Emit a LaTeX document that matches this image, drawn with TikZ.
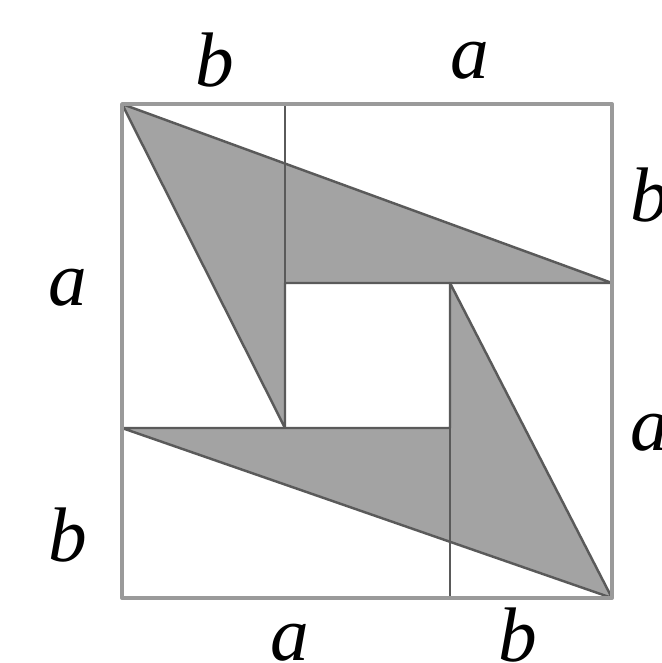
\documentclass[tikz,border=0pt]{standalone}
\usepackage{fontspec}
\setmainfont{Liberation Serif}
\definecolor{shade}{HTML}{A3A3A3}
\definecolor{edge}{HTML}{5A5A5A}
\definecolor{frame}{HTML}{9A9A9A}
\tikzset{lbl/.style={font=\fontsize{22}{26}\selectfont\itshape}}
\begin{document}
\begin{tikzpicture}[line join=round]
            \useasboundingbox (0,0) rectangle (6.62,6.63);
            \coordinate (tl) at (1.22,5.59);
            \coordinate (tr) at (6.12,5.59);
            \coordinate (bl) at (1.22,0.65);
            \coordinate (br) at (6.12,0.65);
            \coordinate (p1) at (2.85,5.59);
            \coordinate (p2) at (6.12,3.80);
            \coordinate (p3) at (2.85,3.80);
            \coordinate (p4) at (2.85,2.35);
            \coordinate (q1) at (4.50,0.65);
            \coordinate (q2) at (1.22,2.35);
            \coordinate (q3) at (4.50,2.35);
            \coordinate (q4) at (4.50,3.80);
            \draw[edge, line width=0.7pt, fill=shade] (tl) -- (p2) -- (p3) -- (p4) -- cycle;
            \draw[edge, line width=0.7pt, fill=shade] (br) -- (q2) -- (q3) -- (q4) -- cycle;
            \draw[edge, line width=0.7pt] (p1) -- (p3);
            \draw[edge, line width=0.7pt] (q3) -- (q1);
            \draw[frame, line width=1.1pt] (bl) rectangle (tr);
            \node[lbl] (tb) at (2.15,6.03) {b};
            \node[lbl] (ta) at (4.70,6.02) {a};
            \node[lbl] (rb) at (6.50,4.68) {b};
            \node[lbl] (ra) at (6.50,2.30) {a};
            \node[lbl] (la) at (0.68,3.75) {a};
            \node[lbl] (lb) at (0.68,1.28) {b};
            \node[lbl] (ba) at (2.90,0.20) {a};
            \node[lbl] (bb) at (5.18,0.28) {b};
        \end{tikzpicture}
\end{document}
